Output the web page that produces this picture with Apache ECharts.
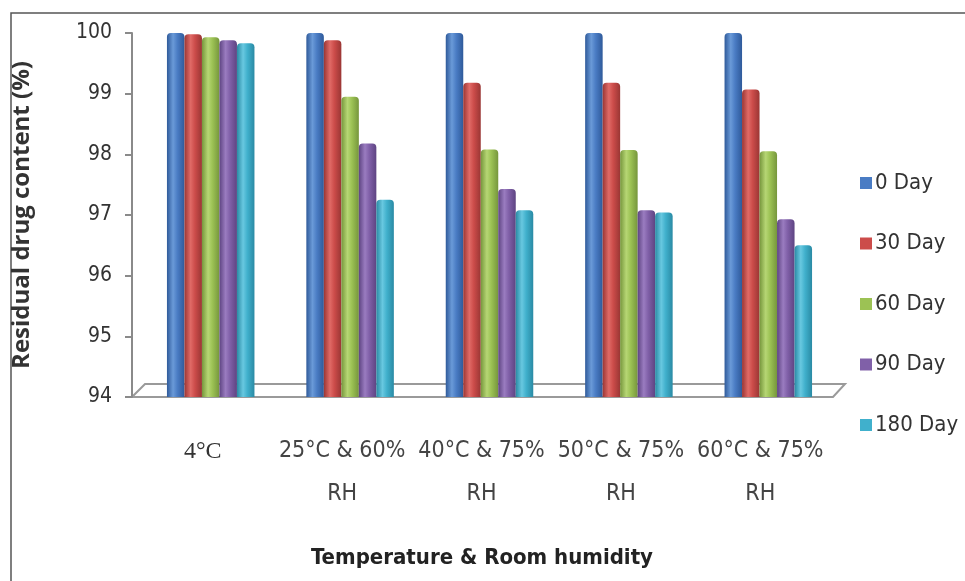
<!DOCTYPE html>
<html>
<head>
<meta charset="utf-8">
<script src="https://cdn.jsdelivr.net/npm/echarts@6/dist/echarts.min.js"></script>
<style>
html,body{margin:0;padding:0;background:#fff;}
#chart{width:965px;height:581px;}
</style>
</head>
<body>
<div id="chart"></div>
<script>
var categories = ['4°C', '25°C & 60%\nRH', '40°C & 75%\nRH', '50°C & 75%\nRH', '60°C & 75%\nRH'];
var seriesNames = ['0 Day', '30 Day', '60 Day', '90 Day', '180 Day'];
var day0   = [100.0, 100.0, 100.0, 100.0, 100.0];
var day30  = [99.98, 99.88, 99.18, 99.18, 99.07];
var day60  = [99.93, 98.95, 98.08, 98.07, 98.05];
var day90  = [99.88, 98.18, 97.43, 97.08, 96.93];
var day180 = [99.83, 97.25, 97.08, 97.04, 96.50];
var yTicks = [94, 95, 96, 97, 98, 99, 100];

var seriesData = [day0, day30, day60, day90, day180];
var baseColors = ['#4a7cc4', '#cc4c4a', '#9cc254', '#8060a8', '#40b0cc'];
var edgeColors = ['#2f5a9a', '#9a3634', '#76963c', '#5e4482', '#2a8aa4'];
var lightColors = ['#6a9ad8', '#e06a66', '#b6d674', '#9a7cc0', '#68c8e0'];

function cyl(i) {
  return new echarts.graphic.LinearGradient(0, 0, 1, 0, [
    {offset: 0, color: edgeColors[i]},
    {offset: 0.35, color: lightColors[i]},
    {offset: 0.6, color: baseColors[i]},
    {offset: 1, color: edgeColors[i]}
  ]);
}

var chart = echarts.init(document.getElementById('chart'), null, {renderer: 'canvas'});
var FONT = '"DejaVu Sans Condensed", "Liberation Sans Narrow", sans-serif';

var series = seriesNames.map(function (name, i) {
  return {
    name: name,
    type: 'bar',
    data: seriesData[i],
    barWidth: 17.5,
    barGap: '0%',
    itemStyle: {color: cyl(i), borderRadius: [4, 4, 0, 0]},
    emphasis: {disabled: true}
  };
});

chart.setOption({
  animation: false,
  backgroundColor: '#ffffff',
  grid: {left: 141, right: 127, top: 33, bottom: 184, containLabel: false},
  legend: {
    orient: 'vertical',
    left: 855,
    top: 167,
    itemWidth: 12,
    itemHeight: 12,
    itemGap: 38.5,
    icon: 'rect',
    data: seriesNames.map(function (n, i) { return {name: n, itemStyle: {color: baseColors[i]}}; }),
    textStyle: {fontFamily: FONT, fontSize: 22, color: '#333', padding: [0, 0, 0, -2], lineHeight: 22}
  },
  xAxis: {
    type: 'category',
    data: categories,
    axisLine: {show: false},
    axisTick: {show: false},
    axisLabel: {
      interval: 0,
      margin: 33,
      fontFamily: FONT,
      fontSize: 23,
      color: '#444',
      lineHeight: 43,
      padding: [0, 16, 0, 0],
      formatter: function (v, idx) {
        if (idx === 0) return '{s|' + v + '}';
        return v;
      },
      rich: {
        s: {fontFamily: '"Liberation Serif", "DejaVu Serif", serif', fontSize: 24, color: '#333', lineHeight: 43}
      }
    }
  },
  yAxis: {
    type: 'value',
    min: 94,
    max: 100,
    interval: 1,
    offset: 9,
    name: 'Residual drug content (%)',
    nameLocation: 'middle',
    nameGap: 98,
    nameTextStyle: {fontFamily: '"Open Sans", "DejaVu Sans", sans-serif', fontWeight: 'bold', fontSize: 24, color: '#333'},
    axisLine: {show: true, lineStyle: {color: '#8a8a8a', width: 2}},
    axisTick: {show: true, length: 7, lineStyle: {color: '#8a8a8a', width: 2}},
    splitLine: {show: false},
    axisLabel: {
      margin: 20,
      fontFamily: FONT,
      fontSize: 21,
      color: '#333',
      formatter: function (v) { return yTicks.indexOf(v) >= 0 ? String(v) : ''; }
    }
  },
  graphic: [
    {type: 'polyline', shape: {points: [[11, 581], [11, 13], [965, 13]]}, style: {stroke: '#555', lineWidth: 1.5, fill: null}, z: 0},
    {type: 'polyline', shape: {points: [[132, 397], [145, 384], [845, 384], [833, 397], [132, 397]]}, style: {stroke: '#9a9a9a', lineWidth: 2, fill: null}, z: 0},
    {type: 'text', style: {text: 'Temperature & Room humidity', x: 482, y: 558, align: 'center', verticalAlign: 'middle', font: 'bold 22px "DejaVu Sans Condensed", sans-serif', fill: '#222'}, z: 5}
  ],
  series: series
});
</script>
</body>
</html>
